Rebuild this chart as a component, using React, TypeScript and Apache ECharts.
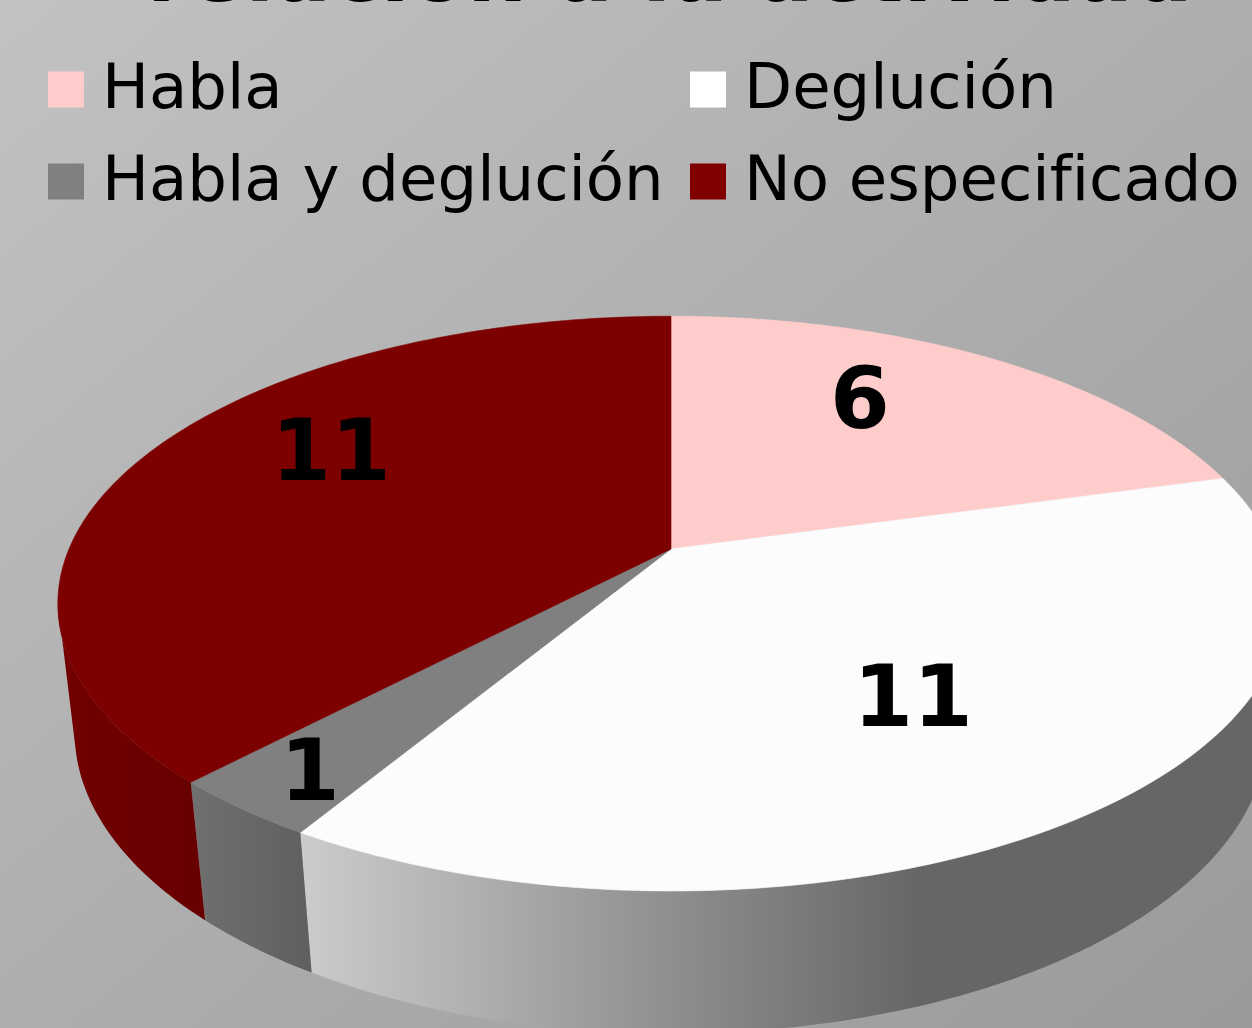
import React, { useEffect, useRef } from "react";
import * as echarts from "echarts";

const titleText = "relación a la actividad";
const categories = ["Habla", "Deglución", "Habla y deglución", "No especificado"];
const values = [6, 11, 1, 11];
const topColors = ["#FFCCCC", "#FCFCFC", "#808080", "#7D0000"];
const legendColors = ["#FFCCCC", "#FFFFFF", "#808080", "#800000"];
const sideStops = [
  [["#C8AAAA", 0], ["#C8AAAA", 1]],
  [["#CCCCCC", 0], ["#666666", 1]],
  [["#707070", 0], ["#5F5F5F", 1]],
  [["#720000", 0], ["#680000", 1]],
];
const sideGradX = [[700, 1200], [300, 920], [190, 311], [60, 195]];
const labelAnchors = [[860, 398], [913, 696], [310, 770], [331, 450]];

// projective views of the top and the bottom discs
const AX = 671;
const TOP = { y: 549, f: 602, g: 277, k: 0.19 };
const LOW = { y: 676, f: 586, g: 291, k: 0.186 };
const total = values.reduce((a, b) => a + b, 0);
const STEP = Math.PI / 180;
// the wall is only seen between the silhouette angles of each disc
const SIDE_FROM = Math.acos(-TOP.k);
const SIDE_TO = Math.PI * 2 - SIDE_FROM;
const LOW_FROM = Math.acos(-0.26);
const LOW_TO = Math.PI * 2 - LOW_FROM;

function rim(view: typeof TOP, a: number): [number, number] {
  const u = Math.sin(a), v = Math.cos(a);
  const d = 1 + view.k * v;
  return [AX + (view.f * u) / d, view.y - (view.g * v) / d];
}
function arcAngles(a0: number, a1: number): number[] {
  const n = Math.max(2, Math.ceil((a1 - a0) / STEP));
  const out: number[] = [];
  for (let i = 0; i <= n; i++) out.push(a0 + ((a1 - a0) * i) / n);
  return out;
}

function makeRenderItem(index: number) {
  return (_params: any, api: any) => {
    const before = values.slice(0, index).reduce((a, b) => a + b, 0);
    const a0 = (before / total) * Math.PI * 2;
    const a1 = a0 + (api.value(0) / total) * Math.PI * 2;
    const topPts = [[AX, TOP.y], ...arcAngles(a0, a1).map((a) => rim(TOP, a))];
    const children: any[] = [
      {
        type: "polygon",
        z2: 5,
        shape: { points: topPts },
        style: { fill: topColors[index], stroke: topColors[index], lineWidth: 0.6 },
      },
      {
        type: "text",
        z2: 10,
        x: labelAnchors[index][0],
        y: labelAnchors[index][1],
        style: {
          text: String(api.value(0)),
          fill: "#000",
          font: 'bold 86px "DejaVu Sans"',
          align: "center",
          verticalAlign: "middle",
        },
      },
    ];
    const s0 = Math.max(a0, SIDE_FROM);
    const s1 = Math.min(a1, SIDE_TO);
    const l0 = Math.max(a0, LOW_FROM);
    const l1 = Math.min(a1, LOW_TO);
    if (s1 > s0 && l1 > l0) {
      const sidePts = [
        ...arcAngles(s0, s1).map((a) => rim(TOP, a)),
        ...arcAngles(l0, l1).reverse().map((a) => rim(LOW, a)),
      ];
      const [gx0, gx1] = sideGradX[index];
      const stops = sideStops[index].map(([color, offset]) => ({ offset, color }));
      children.unshift({
        type: "polygon",
        z2: 1,
        shape: { points: sidePts },
        style: {
          fill: new echarts.graphic.LinearGradient(gx0, 0, gx1, 0, stops as any, true),
          stroke: null,
        },
      });
    }
    return { type: "group", children };
  };
}

export default function App() {
  const ref = useRef<HTMLDivElement>(null);
  useEffect(() => {
    const chart = echarts.init(ref.current!, null, { renderer: "svg" });
    const legendBase = {
      orient: "vertical" as const,
      itemWidth: 36,
      itemHeight: 36,
      itemGap: 29,
      icon: "rect",
      selectedMode: false,
      padding: 0,
      formatter: "{t|{name}}",
      textStyle: {
        padding: [0, 0, 6, 13],
        rich: {
          t: {
            fontFamily: "DejaVu Sans",
            fontSize: 62.5,
            color: "#000",
            lineHeight: 57,
          },
        },
      },
    };
    chart.setOption({
      animation: false,
      backgroundColor: new echarts.graphic.LinearGradient(0, 0, 1, 1, [
        { offset: 0, color: "#C2C2C2" },
        { offset: 1, color: "#9A9A9A" },
      ]),
      title: {
        text: titleText,
        left: 147,
        top: -70,
        padding: 0,
        textStyle: { fontFamily: "DejaVu Sans", fontWeight: "bold", fontSize: 84, color: "#000" },
      },
      legend: [
        { ...legendBase, left: 48, top: 55, data: [categories[0], categories[2]] },
        { ...legendBase, left: 690, top: 55, data: [categories[1], categories[3]] },
      ],
      series: categories.map((name, i) => ({
        type: "custom",
        name,
        coordinateSystem: "none",
        silent: true,
        itemStyle: { color: legendColors[i] },
        data: [values[i]],
        renderItem: makeRenderItem(i),
      })),
    });
    return () => chart.dispose();
  }, []);
  return (
    <div
      ref={ref}
      style={{
        position: "absolute",
        left: 0,
        top: 0,
        width: 1252,
        height: 1028,
        fontVariantLigatures: "none",
      }}
    />
  );
}
